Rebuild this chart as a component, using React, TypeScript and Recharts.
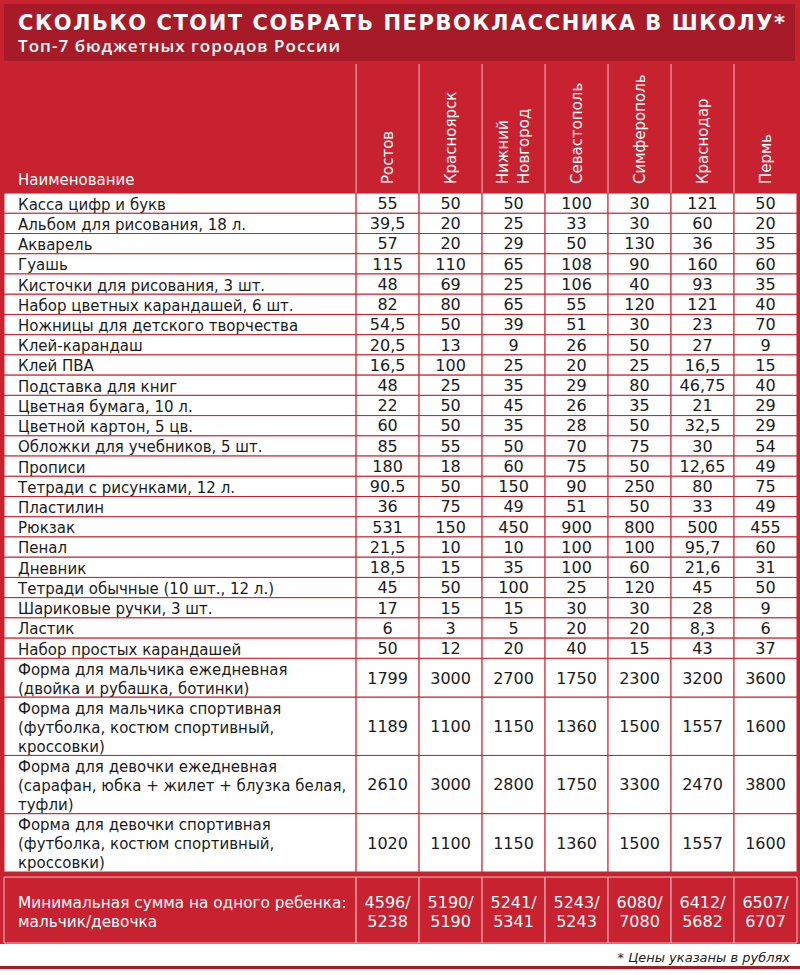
import { ComposedChart, XAxis, YAxis, ReferenceArea, ReferenceLine } from 'recharts';

const TITLE = 'СКОЛЬКО СТОИТ СОБРАТЬ ПЕРВОКЛАССНИКА В ШКОЛУ*';
const SUBTITLE = 'Топ-7 бюджетных городов России';
const NAME_HEADER = 'Наименование';
const TOTAL_LABEL = 'Минимальная сумма на одного ребенка:\nмальчик/девочка';
const FOOTNOTE = '* Цены указаны в рублях';

const cities = ['Ростов', 'Красноярск', 'Нижний\nНовгород', 'Севастополь', 'Симферополь', 'Краснодар', 'Пермь'];

const items = [
  'Касса цифр и букв',
  'Альбом для рисования, 18 л.',
  'Акварель',
  'Гуашь',
  'Кисточки для рисования, 3 шт.',
  'Набор цветных карандашей, 6 шт.',
  'Ножницы для детского творчества',
  'Клей-карандаш',
  'Клей ПВА',
  'Подставка для книг',
  'Цветная бумага, 10 л.',
  'Цветной картон, 5 цв.',
  'Обложки для учебников, 5 шт.',
  'Прописи',
  'Тетради с рисунками, 12 л.',
  'Пластилин',
  'Рюкзак',
  'Пенал',
  'Дневник',
  'Тетради обычные (10 шт., 12 л.)',
  'Шариковые ручки, 3 шт.',
  'Ластик',
  'Набор простых карандашей',
  'Форма для мальчика ежедневная\n(двойка и рубашка, ботинки)',
  'Форма для мальчика спортивная\n(футболка, костюм спортивный,\nкроссовки)',
  'Форма для девочки ежедневная\n(сарафан, юбка + жилет + блузка белая,\nтуфли)',
  'Форма для девочки спортивная\n(футболка, костюм спортивный,\nкроссовки)',
];

// prices as printed (decimal marks kept as in the source)
const rostov = ['55', '39,5', '57', '115', '48', '82', '54,5', '20,5', '16,5', '48', '22', '60', '85', '180', '90.5', '36', '531', '21,5', '18,5', '45', '17', '6', '50', '1799', '1189', '2610', '1020'];
const krasnoyarsk = ['50', '20', '20', '110', '69', '80', '50', '13', '100', '25', '50', '50', '55', '18', '50', '75', '150', '10', '15', '50', '15', '3', '12', '3000', '1100', '3000', '1100'];
const nnovgorod = ['50', '25', '29', '65', '25', '65', '39', '9', '25', '35', '45', '35', '50', '60', '150', '49', '450', '10', '35', '100', '15', '5', '20', '2700', '1150', '2800', '1150'];
const sevastopol = ['100', '33', '50', '108', '106', '55', '51', '26', '20', '29', '26', '28', '70', '75', '90', '51', '900', '100', '100', '25', '30', '20', '40', '1750', '1360', '1750', '1360'];
const simferopol = ['30', '30', '130', '90', '40', '120', '30', '50', '25', '80', '35', '50', '75', '50', '250', '50', '800', '100', '60', '120', '30', '20', '15', '2300', '1500', '3300', '1500'];
const krasnodar = ['121', '60', '36', '160', '93', '121', '23', '27', '16,5', '46,75', '21', '32,5', '30', '12,65', '80', '33', '500', '95,7', '21,6', '45', '28', '8,3', '43', '3200', '1557', '2470', '1557'];
const perm = ['50', '20', '35', '60', '35', '40', '70', '9', '15', '40', '29', '29', '54', '49', '75', '49', '455', '60', '31', '50', '9', '6', '37', '3600', '1600', '3800', '1600'];
const cityValues = [rostov, krasnoyarsk, nnovgorod, sevastopol, simferopol, krasnodar, perm];

const totalsBoy = ['4596', '5190', '5241', '5243', '6080', '6412', '6507'];
const totalsGirl = ['5238', '5190', '5341', '5243', '7080', '5682', '6707'];

const RED = '#c8212f';
const DARK_RED = '#a71b28';
const PINK = '#f1b9be';
const INK = '#1b1b1b';
const FONT = '"DejaVu Sans", sans-serif';
const TITLE_FONT = '"DejaVu Sans", sans-serif';

// layout in axis units: one city column = 1 x-unit, one single-line row = 1 y-unit
const NAME_SPAN = 5.59;
const HEADER_SPAN = 6.38;
const GAP = 0.25;
const FOOTER_SPAN = 3.26;

const rowSpan = (name: string) => {
  const n = name.split('\n').length;
  return n === 1 ? 1 : n * 0.96;
};

const rowTops: number[] = [];
let acc = 0;
items.forEach((it) => {
  rowTops.push(acc);
  acc += rowSpan(it);
});
const BODY_SPAN = acc;
const FOOT_TOP = BODY_SPAN + GAP;
const Y_MAX = FOOT_TOP + FOOTER_SPAN;

const rows = items.map((name, i) => ({
  name,
  top: rowTops[i],
  bottom: rowTops[i] + rowSpan(name),
  values: cityValues.map((c) => c[i]),
}));

function CellText(props: any) {
  const { viewBox, lines, align = 'center', color = INK, size = 15, lh = 19, pad = 14, shift = 0, valign = 'middle', weight = 400 } = props;
  if (!viewBox) return null;
  const { x, y, width, height } = viewBox;
  const tx = align === 'left' ? x + pad : x + width / 2;
  const n = lines.length;
  const cy = valign === 'bottom' ? y + height - 8 - size * 0.36 - ((n - 1) * lh) / 2 : y + height / 2 + shift;
  return (
    <text textAnchor={align === 'left' ? 'start' : 'middle'} fill={color} fontSize={size} fontFamily={FONT} fontWeight={weight}>
      {lines.map((l: string, i: number) => (
        <tspan key={i} x={tx} y={cy + (i - (n - 1) / 2) * lh + size * 0.36}>
          {l}
        </tspan>
      ))}
    </text>
  );
}

function HeaderText(props: any) {
  const { viewBox, lines, size = 15, lh = 21 } = props;
  if (!viewBox) return null;
  const { x, y, width, height } = viewBox;
  const n = lines.length;
  return (
    <text transform={`translate(${x + width / 2},${y + height - 9}) rotate(-90)`} fill="#fff" fontSize={size} fontFamily={FONT}>
      {lines.map((l: string, i: number) => (
        <tspan key={i} x={0} y={(i - (n - 1) / 2) * lh + size * 0.36}>
          {l}
        </tspan>
      ))}
    </text>
  );
}

export default function App() {
  return (
    <div style={{ position: 'absolute', left: 0, top: 0, width: 800, height: 975, background: '#fff', overflow: 'hidden' }}>
      <div style={{ position: 'absolute', left: 0, top: 0, width: 800, height: 944, background: RED }} />
      <div style={{ position: 'absolute', left: 4, top: 4, width: 791, height: 57, background: DARK_RED }} />
      <svg width={800} height={64} style={{ position: 'absolute', left: 0, top: 0 }}>
        <text x={18} y={30} fill="#fff" fontSize={21} fontWeight={700} fontFamily={TITLE_FONT} textLength={767} lengthAdjust="spacing">
          {TITLE}
        </text>
        <text x={18} y={52} fill="#fff" fontSize={17} fontWeight={600} fontFamily='"Open Sans", sans-serif' textLength={322} lengthAdjust="spacing">
          {SUBTITLE}
        </text>
      </svg>

      <div style={{ position: 'absolute', left: 0, top: 0 }}>
        <ComposedChart width={800} height={975} margin={{ top: 64, right: 3, bottom: 32, left: 4 }}>
          <XAxis type="number" dataKey="x" hide domain={[-NAME_SPAN, cities.length]} allowDataOverflow />
          <YAxis type="number" dataKey="y" hide reversed domain={[-HEADER_SPAN, Y_MAX]} allowDataOverflow />

          {/* header */}
          <ReferenceArea
            x1={-NAME_SPAN}
            x2={0}
            y1={-HEADER_SPAN}
            y2={0}
            fill="none"
            stroke="none"
            label={<CellText lines={[NAME_HEADER]} align="left" valign="bottom" color="#fff" />}
          />
          {cities.map((c, j) => (
            <ReferenceArea
              key={`h-${j}`}
              x1={j}
              x2={j + 1}
              y1={-HEADER_SPAN}
              y2={0}
              fill="none"
              stroke="none"
              label={<HeaderText lines={c.split('\n')} />}
            />
          ))}
          {cities.map((c, j) => (
            <ReferenceLine
              key={`hl-${j}`}
              segment={[
                { x: j, y: -HEADER_SPAN },
                { x: j, y: 0 },
              ]}
              stroke={PINK}
              strokeWidth={1}
            />
          ))}

          {/* body */}
          {rows.map((r, i) => (
            <ReferenceArea
              key={`n-${i}`}
              x1={-NAME_SPAN}
              x2={0}
              y1={r.top}
              y2={r.bottom}
              fill="#fff"
              fillOpacity={1}
              stroke={RED}
              strokeWidth={1}
              label={<CellText lines={r.name.split('\n')} align="left" shift={1} />}
            />
          ))}
          {rows.map((r, i) =>
            r.values.map((v, j) => (
              <ReferenceArea
                key={`v-${i}-${j}`}
                x1={j}
                x2={j + 1}
                y1={r.top}
                y2={r.bottom}
                fill="#fff"
                fillOpacity={1}
                stroke={RED}
                strokeWidth={1}
                label={<CellText lines={[v]} size={16} />}
              />
            ))
          )}

          {/* totals */}
          <ReferenceArea
            x1={-NAME_SPAN}
            x2={0}
            y1={FOOT_TOP}
            y2={Y_MAX}
            fill={RED}
            fillOpacity={1}
            stroke={PINK}
            strokeWidth={1}
            label={<CellText lines={TOTAL_LABEL.split('\n')} align="left" color="#fff" size={15.3} shift={2} />}
          />
          {totalsBoy.map((b, j) => (
            <ReferenceArea
              key={`t-${j}`}
              x1={j}
              x2={j + 1}
              y1={FOOT_TOP}
              y2={Y_MAX}
              fill={RED}
              fillOpacity={1}
              stroke={PINK}
              strokeWidth={1}
              label={<CellText lines={[`${b}/`, totalsGirl[j]]} color="#fff" size={16} shift={2} />}
            />
          ))}
        </ComposedChart>
      </div>

      <div
        style={{
          position: 'absolute',
          right: 10,
          top: 950,
          fontFamily: FONT,
          fontStyle: 'italic',
          fontSize: 13,
          lineHeight: '16px',
          color: '#222',
        }}
      >
        {FOOTNOTE}
      </div>
      <div style={{ position: 'absolute', left: 0, top: 966, width: 800, height: 3, background: DARK_RED }} />
    </div>
  );
}
